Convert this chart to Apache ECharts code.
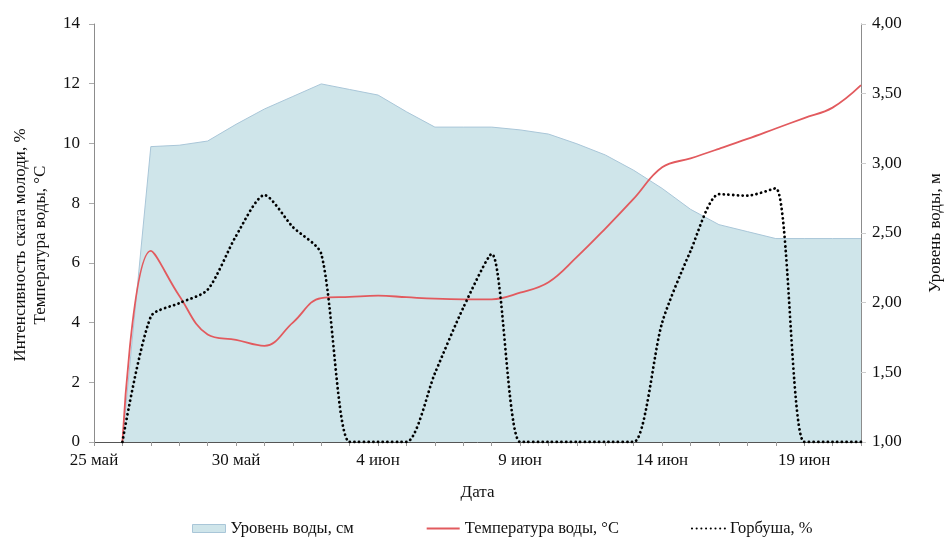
<!DOCTYPE html>
<html>
<head>
<meta charset="utf-8">
<script src="https://cdn.jsdelivr.net/npm/echarts@6/dist/echarts.min.js"></script>
<style>
  html, body { margin: 0; padding: 0; background: #fff; }
  #chart { width: 949px; height: 542px; }
</style>
</head>
<body>
<div id="chart"></div>
<script>
// Daily observations, 25 May – 21 June
const dates = [
  '25 май', '26 май', '27 май', '28 май', '29 май', '30 май', '31 май',
  '1 июн', '2 июн', '3 июн', '4 июн', '5 июн', '6 июн', '7 июн', '8 июн',
  '9 июн', '10 июн', '11 июн', '12 июн', '13 июн', '14 июн', '15 июн',
  '16 июн', '17 июн', '18 июн', '19 июн', '20 июн', '21 июн'
];

// Water level, m (right axis)
const waterLevel = [
  null, 1.00, 3.12, 3.13, 3.16, 3.28, 3.39, 3.48, 3.57, 3.53, 3.49, 3.37,
  3.26, 3.26, 3.26, 3.24, 3.21, 3.14, 3.06, 2.95, 2.82, 2.67, 2.56, 2.51,
  2.46, 2.46, 2.46, 2.46
];

// Water temperature, °C (left axis)
const waterTemp = [
  null, 0, 6.4, 4.9, 3.6, 3.42, 3.22, 4.0, 4.82, 4.86, 4.9, 4.85,
  4.8, 4.78, 4.78, 5.0, 5.35, 6.2, 7.15, 8.15, 9.2, 9.5, 9.82, 10.15,
  10.5, 10.85, 11.2, 11.95
];

// Pink salmon downstream migration intensity, % (left axis)
const pinkSalmon = [
  null, 0, 4.2, 4.65, 5.1, 6.9, 8.27, 7.2, 6.3, 0, 0, 0,
  2.3, 4.5, 6.3, 0, 0, 0, 0, 0, 4.0, 6.4, 8.3, 8.25,
  8.5, 0, 0, 0
];

const seriesNames = ['Уровень воды, см', 'Температура воды, °С', 'Горбуша, %'];

const FONT = 'Liberation Serif';
const chart = echarts.init(document.getElementById('chart'), null, { renderer: 'canvas' });

chart.setOption({
  backgroundColor: '#ffffff',
  animation: false,
  textStyle: { fontFamily: FONT, color: '#111' },
  grid: { left: 94, right: 88, top: 24, bottom: 100, containLabel: false, outerBoundsMode: 'none' },
  legend: {
    bottom: 0,
    left: 187,
    itemWidth: 33,
    itemHeight: 8,
    itemGap: 72,
    itemStyle: { opacity: 0 },
    textStyle: { fontFamily: FONT, fontSize: 16.5, color: '#111' },
    data: [
      { name: seriesNames[0], icon: 'rect',
        itemStyle: { color: '#cfe5ea', borderColor: '#a9c6d8', borderWidth: 1, opacity: 1 } },
      { name: seriesNames[1] },
      { name: seriesNames[2] }
    ]
  },
  xAxis: {
    type: 'category',
    data: dates,
    boundaryGap: false,
    name: 'Дата',
    nameLocation: 'middle',
    nameGap: 42,
    nameTextStyle: { fontFamily: FONT, fontSize: 17, color: '#111' },
    axisLine: { lineStyle: { color: '#555', width: 1 } },
    axisTick: { show: true, interval: 0, length: 4, lineStyle: { color: '#999' } },
    axisLabel: { interval: 4, margin: 10, fontFamily: FONT, fontSize: 17, color: '#111' },
    splitLine: { show: false }
  },
  yAxis: [
    {
      type: 'value',
      min: 0,
      max: 14,
      interval: 2,
      position: 'left',
      name: 'Интенсивность ската молоди, %\nТемпература воды, °С',
      nameLocation: 'middle',
      nameRotate: 90,
      nameGap: 43,
      nameTextStyle: { fontFamily: FONT, fontSize: 17, color: '#111', lineHeight: 20, padding: [0, 24, 0, 0] },
      axisLine: { show: true, lineStyle: { color: '#8c8c8c' } },
      axisTick: { show: true, length: 5, lineStyle: { color: '#aaa' } },
      axisLabel: { margin: 14, fontFamily: FONT, fontSize: 17, color: '#111' },
      splitLine: { show: false }
    },
    {
      type: 'value',
      min: 1,
      max: 4,
      interval: 0.5,
      position: 'right',
      name: 'Уровень воды, м',
      nameLocation: 'middle',
      nameRotate: 90,
      nameGap: 66,
      nameTextStyle: { fontFamily: FONT, fontSize: 17, color: '#111' },
      axisLine: { show: true, lineStyle: { color: '#8c8c8c' } },
      axisTick: { show: true, length: 5, lineStyle: { color: '#ccc' } },
      axisLabel: {
        margin: 11, fontFamily: FONT, fontSize: 17, color: '#111',
        formatter: v => v.toFixed(2).replace('.', ',')
      },
      splitLine: { show: false }
    }
  ],
  series: [
    {
      name: seriesNames[0],
      type: 'line',
      yAxisIndex: 1,
      data: waterLevel,
      symbol: 'none',
      smooth: false,
      lineStyle: { color: '#a9c6d8', width: 1 },
      itemStyle: { color: '#cfe5ea' },
      areaStyle: { color: '#cfe5ea', opacity: 1 },
      z: 1
    },
    {
      name: seriesNames[1],
      type: 'line',
      yAxisIndex: 0,
      data: waterTemp,
      symbol: 'none',
      smooth: 0.4,
      lineStyle: { color: '#e25a5e', width: 1.8 },
      itemStyle: { color: '#e25a5e' },
      z: 3
    },
    {
      name: seriesNames[2],
      type: 'line',
      yAxisIndex: 0,
      data: pinkSalmon,
      symbol: 'none',
      smooth: 0.25,
      lineStyle: { color: '#000', width: 2.8, type: [0.1, 4.6], cap: 'round' },
      itemStyle: { color: '#000' },
      z: 4
    }
  ]
});
</script>
</body>
</html>
